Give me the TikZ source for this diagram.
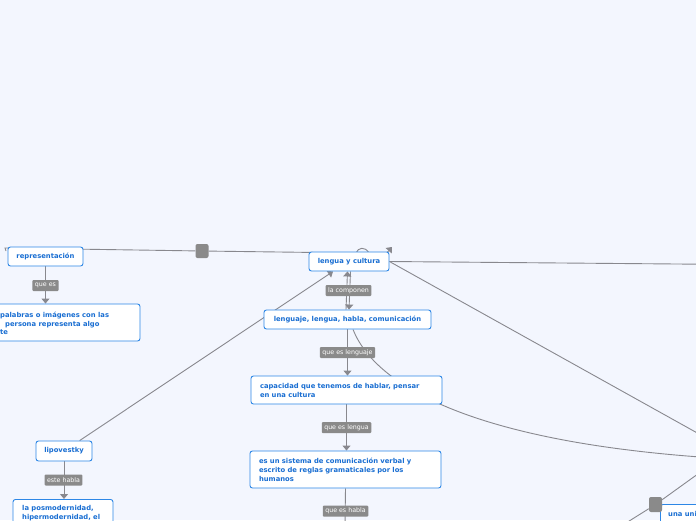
\documentclass[tikz,border=0pt]{standalone}
\usepackage{fontspec}
\newfontfamily\dvs{DejaVu Sans}
\usetikzlibrary{arrows.meta}
\definecolor{bgc}{RGB}{243,246,254}
\definecolor{bblue}{RGB}{45,135,230}
\definecolor{tblue}{RGB}{25,110,210}
\definecolor{lgray}{RGB}{138,138,138}
\definecolor{cgray}{RGB}{136,136,142}
\pgfdeclarelayer{bg}
\pgfsetlayers{bg,main}
\begin{document}
\begin{tikzpicture}[x=1pt,y=-1pt,
 topic/.style={draw=bblue, line width=0.9pt, fill=white, rounded corners=2.5pt, text=tblue, font=\dvs\bfseries\fontsize{6.8}{9}\selectfont, inner sep=0pt},
 multi/.style={topic, align=left, text width=#1, inner xsep=9pt},
 ttext/.style={text=tblue, font=\dvs\bfseries\fontsize{6.8}{8.6}\selectfont, inner sep=0pt, align=left},
 lbl/.style={fill=lgray, text=white, font=\dvs\fontsize{6.3}{7}\selectfont, inner xsep=2.5pt, inner ysep=0pt, minimum height=11pt, rounded corners=1pt},
 conn/.style={draw=cgray, line width=0.9pt},
 tip/.style={-{Triangle[width=8pt,length=5pt]}},
 sqr/.style={fill=lgray, rounded corners=2pt, minimum width=13pt, minimum height=14pt, inner sep=0pt}
]
\useasboundingbox (0,0) rectangle (696,520);

% nodes
\node[topic, minimum width=75pt, minimum height=19pt] (rep) at (45.5,256.5) {representación};
\node[lbl] (q1) at (45.5,285.5) {que es};
\node[topic, minimum width=150pt, minimum height=37pt] (box1) at (65,322.5) {};
\node[ttext, anchor=west] (box1t) at (0,323.5) {palabras o imágenes con las\\\hspace*{5pt}persona representa algo\\te};

\node[topic, minimum width=80pt, minimum height=19pt] (lyc) at (349,261.5) {lengua y cultura};
\node[lbl] (q2) at (348.5,290.5) {la componen};
\node[topic, minimum width=167pt, minimum height=19pt] (len) at (347.5,319.5) {lenguaje, lengua, habla, comunicación};
\node[lbl] (q3) at (347.5,352.5) {que es lenguaje};
\node[multi=173pt, minimum height=28pt] (cap) at (346.5,390) {capacidad que tenemos de hablar, pensar\\en una cultura};
\node[lbl] (q4) at (346.5,427.5) {que es lengua};
\node[multi=173pt, minimum height=37pt] (sis) at (345.5,469.5) {es un sistema de comunicación verbal y\\escrito de reglas gramaticales por los\\humanos};
\node[lbl] (q5) at (345.5,511) {que es habla};

\node[topic, minimum width=56pt, minimum height=20pt] (lip) at (64,451) {lipovestky};
\node[lbl] (q6) at (63.5,480) {este habla};
\node[topic, minimum width=100pt, minimum height=40pt, anchor=north] (pos) at (63,499) {};
\node[ttext, anchor=north west] (post) at (22,505.5) {la posmodernidad,\\hipermodernidad, el};

\node[topic, minimum width=60pt, minimum height=30pt, anchor=north west] (uni) at (660,504) {};
\node[ttext, anchor=west] (unit) at (668,514) {una uni};

\node[sqr] (sq1) at (202,251) {};
\node[sqr, minimum height=15pt] (sq2) at (655.5,504.5) {};

\coordinate (l0) at (5,248);
\coordinate (l0b) at (6,251);
\coordinate (c1) at (356,253);
\coordinate (c2) at (369,253);
\coordinate (a1) at (383,257);
\coordinate (a2) at (392,247);
\coordinate (r1) at (700,264.2);
\coordinate (r2) at (700,434.5);
\coordinate (r3) at (700,457);
\coordinate (r4) at (702,471);
\coordinate (b4) at (626,523);
\coordinate (b1) at (345,525);

\begin{pgfonlayer}{bg}
\fill[bgc] (0,0) rectangle (696,520);
\draw[conn] (l0b) -- (l0) -- (sq1) -- (c1) .. controls (358,247.5) and (365,246) .. (c2);
\draw[conn, tip] (a1) -- (a2);
\draw[conn, tip] (rep.south) -- (rep.south |- box1.north);
\draw[conn] (lyc.east) -- (r1);
\draw[conn] (lyc.east) -- (r2);
\draw[conn, tip] ([xshift=-1.5pt]len.north) -- ([xshift=-1.5pt]lyc.south);
\draw[conn, tip] ([xshift=1.5pt]lyc.south) -- ([xshift=1.5pt]len.north);
\draw[conn, tip] (len.south) -- (len.south |- cap.north);
\draw[conn] ([xshift=5.5pt]len.south) .. controls (375,385) and (470,440) .. (r3);
\draw[conn, tip] (cap.south) -- (cap.south |- sis.north);
\draw[conn] (sis.south) -- (b1);
\draw[conn, tip] (lip) -- ([xshift=-16pt]lyc.south);
\draw[conn, tip] (lip.south) -- (lip.south |- pos.north);
\draw[conn] (r4) -- (sq2) -- (b4);
\end{pgfonlayer}
\end{tikzpicture}
\end{document}
